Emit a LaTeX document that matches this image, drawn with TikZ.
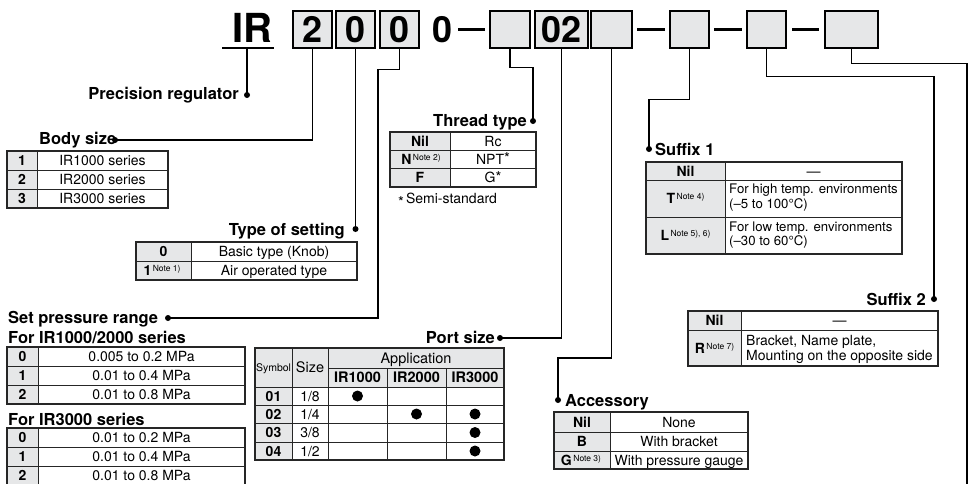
\documentclass[tikz,border=0pt]{standalone}
\usepackage{fontspec}
\setmainfont{TeX Gyre Heros}
\definecolor{cg}{HTML}{E6E7E8}
\newcommand\nt[1]{\kern1.5pt\raisebox{3.6pt}{\fontsize{8.5}{9}\mdseries\selectfont Note #1)}}
\newcommand\astk{{\fontsize{15}{15}\mdseries\selectfont *}}
\tikzset{
  conn/.style={line width=1.3pt, black},
  hbox/.style={draw=black, line width=1.4pt, fill=cg, minimum height=37pt, inner sep=0pt,
    font=\fontsize{36}{36}\bfseries\selectfont, text height=25.5pt, text depth=0pt},
  digit/.style={font=\fontsize{36}{36}\bfseries\selectfont, inner sep=0pt},
  lbl/.style={font=\fontsize{16.5}{18}\bfseries\selectfont, inner sep=0pt},
  cell/.style={font=\fontsize{14}{16}\selectfont, inner sep=0pt, text height=10pt, text depth=0pt},
  code/.style={cell, font=\fontsize{14}{16}\bfseries\selectfont},
  small/.style={cell, font=\fontsize{13.2}{15}\selectfont, anchor=base west},
  tline/.style={line width=0.9pt, black!85},
  tout/.style={line width=1.1pt, black!85},
  dashln/.style={line width=3pt, black},
}
\begin{document}
\begin{tikzpicture}[x=1pt,y=-1pt]
\useasboundingbox (0,0) rectangle (973,483);
% ---------- header ----------
\node[font=\fontsize{40}{40}\bfseries\selectfont, inner sep=0pt, anchor=base] (ir) at (252,42) {IR};
\draw[conn] (222,48) -- (274,48);
\node[hbox, minimum width=39pt] (b1) at (312.5,29.5) {2};
\node[hbox, minimum width=39pt] (b2) at (355.5,29.5) {0};
\node[hbox, minimum width=39pt] (b3) at (399.5,29.5) {0};
\node[digit, anchor=base] (zero) at (443,42.3) {0};
\node[hbox, minimum width=40pt] (b4) at (510,29.5) {};
\node[hbox, minimum width=53pt] (b5) at (561.5,29.5) {02};
\node[hbox, minimum width=41pt] (b6) at (611.5,29.5) {};
\node[hbox, minimum width=39pt] (b7) at (689.5,29.5) {};
\node[hbox, minimum width=39pt] (b8) at (766.5,29.5) {};
\node[hbox, minimum width=53pt] (b9) at (851.5,29.5) {};
\draw[dashln] (458,29.5) -- (485,29.5);
\draw[dashln] (637,29.5) -- (665,29.5);
\draw[dashln] (714,29.5) -- (742,29.5);
\draw[dashln] (792,29.5) -- (819,29.5);
% ---------- connector points ----------
\coordinate (irU) at (247,48);
\coordinate (dPrec) at (247,95);
\coordinate (dBody) at (115,140);
\coordinate (dType) at (355.5,229);
\coordinate (j3) at (378,318);
\coordinate (dSet) at (168,318);
\coordinate (dThread) at (533,121);
\coordinate (dPort) at (500,338);
\coordinate (j6) at (558,358);
\coordinate (dAcc) at (558,400);
\coordinate (dSuf1) at (649,149);
\coordinate (dSuf2) at (934,299);
\coordinate (endR) at (967,490);
\draw[conn] (irU) -- (dPrec);
\draw[conn] (b1.south) |- (dBody);
\draw[conn] (b2.south) -- (dType);
\draw[conn] (b3.south) -- ++(0,21) -| (j3) -- (dSet);
\draw[conn] (b4.south) -- ++(0,19) -| (dThread);
\draw[conn] (b5.south) |- (dPort);
\draw[conn] (b6.south) |- (j6) -- (dAcc);
\draw[conn] (b7.south) -- ++(0,51) -| (dSuf1);
\draw[conn] (b8.south) -- ++(0,28) -| (dSuf2);
\draw[conn] (b9.south) -- ++(0,15) -| (endR);
\foreach \c in {dPrec,dBody,dType,dSet,dThread,dPort,dAcc,dSuf1,dSuf2}
  \fill (\c) circle[radius=3pt];
% ---------- labels ----------
\node[lbl, anchor=base east] (lPrec) at (239,99.5) {Precision regulator};
\node[lbl, anchor=base west] (lBody) at (39,144.5) {Body size};
\node[lbl, anchor=base east] (lType) at (345,235) {Type of setting};
\node[lbl, anchor=base west] (lSet) at (8,323.5) {Set pressure range};
\node[lbl, anchor=base west] (lFor1) at (8,343) {For IR1000/2000 series};
\node[lbl, anchor=base west] (lFor3) at (8,425) {For IR3000 series};
\node[lbl, anchor=base east] (lThread) at (527,126) {Thread type};
\node[lbl, anchor=base east] (lPort) at (495,343) {Port size};
\node[lbl, anchor=base west] (lAcc) at (565,406) {Accessory};
\node[lbl, anchor=base west] (lSuf1) at (655,155) {Suffix 1};
\node[lbl, anchor=base east] (lSuf2) at (926,305) {Suffix 2};
% ---------- Body size table ----------
\fill[cg] (7,151) rectangle (37,208);
\foreach \y in {170,189} \draw[tline] (7,\y) -- (168,\y);
\draw[tline] (37,151) -- (37,208);
\draw[tout] (7,151) rectangle (168,208);
\node[code] (bs1) at (22,160.5) {1};
\node[cell] (bs1v) at (102.5,160.5) {IR1000 series};
\node[code] (bs2) at (22,179.5) {2};
\node[cell] (bs2v) at (102.5,179.5) {IR2000 series};
\node[code] (bs3) at (22,198.5) {3};
\node[cell] (bs3v) at (102.5,198.5) {IR3000 series};
% ---------- Type of setting ----------
\fill[cg] (136,242) rectangle (191,280);
\draw[tline] (136,261) -- (357,261);
\draw[tline] (191,242) -- (191,280);
\draw[tout] (136,242) rectangle (357,280);
\node[code] (ts0) at (163.5,251.5) {0};
\node[cell] (ts0v) at (274,251.5) {Basic type (Knob)};
\node[code] (ts1) at (162,270.5) {1\nt{1}};
\node[cell] (ts1v) at (274,270.5) {Air operated type};
% ---------- Set pressure range ----------
\fill[cg] (7,347) rectangle (38,404);
\foreach \y in {366,385} \draw[tline] (7,\y) -- (245,\y);
\draw[tline] (38,347) -- (38,404);
\draw[tout] (7,347) rectangle (245,404);
\node[code] (sa0) at (22.5,356.5) {0};
\node[cell] (sa0v) at (141.5,356.5) {0.005 to 0.2 MPa};
\node[code] (sa1) at (22.5,375.5) {1};
\node[cell] (sa1v) at (141.5,375.5) {0.01 to 0.4 MPa};
\node[code] (sa2) at (22.5,394.5) {2};
\node[cell] (sa2v) at (141.5,394.5) {0.01 to 0.8 MPa};
\fill[cg] (7,428) rectangle (38,486);
\foreach \y in {447,466} \draw[tline] (7,\y) -- (245,\y);
\draw[tline] (38,428) -- (38,486);
\draw[tout] (7,428) rectangle (245,486);
\node[code] (sb0) at (22.5,437.5) {0};
\node[cell] (sb0v) at (141.5,437.5) {0.01 to 0.2 MPa};
\node[code] (sb1) at (22.5,456.5) {1};
\node[cell] (sb1v) at (141.5,456.5) {0.01 to 0.4 MPa};
\node[code] (sb2) at (22.5,475.5) {2};
\node[cell] (sb2v) at (141.5,475.5) {0.01 to 0.8 MPa};
% ---------- Thread type ----------
\fill[cg] (390,132) rectangle (450,187);
\foreach \y in {150,168} \draw[tline] (390,\y) -- (536,\y);
\draw[tline] (450,132) -- (450,187);
\draw[tout] (390,132) rectangle (536,187);
\node[code] (th0) at (420,141) {Nil};
\node[cell] (th0v) at (493,141) {Rc};
\node[code] (th1) at (421,159) {N\nt{2}};
\node[cell] (th1v) at (493,159) {NPT\raisebox{0.5pt}{\astk}};
\node[code] (th2) at (420,177.5) {F};
\node[cell] (th2v) at (493,177.5) {G\raisebox{0.5pt}{\astk}};
\node[cell, anchor=base west] (semi) at (398,203.5) {\raisebox{-3.5pt}{\astk}\kern2pt Semi-standard};
% ---------- Port size ----------
\fill[cg] (255,348) rectangle (504,387);
\fill[cg] (255,387) rectangle (292,460);
\draw[tline] (328,368) -- (504,368);
\foreach \y in {387,405,423,442} \draw[tline] (255,\y) -- (504,\y);
\draw[tline] (292,348) -- (292,460);
\draw[tline] (328,348) -- (328,460);
\draw[tline] (387,368) -- (387,460);
\draw[tline] (446,368) -- (446,460);
\draw[tout] (255,348) rectangle (504,460);
\node[cell, font=\fontsize{10.5}{12}\selectfont, text height=7.5pt] (psS) at (273.5,367.5) {Symbol};
\node[cell, font=\fontsize{14.5}{16}\selectfont] (psZ) at (310,367.5) {Size};
\node[cell, font=\fontsize{14.5}{16}\selectfont] (psA) at (416,358) {Application};
\node[code, font=\fontsize{14.5}{16}\bfseries\selectfont] (ps1) at (357.5,377.5) {IR1000};
\node[code, font=\fontsize{14.5}{16}\bfseries\selectfont] (ps2) at (416.5,377.5) {IR2000};
\node[code, font=\fontsize{14.5}{16}\bfseries\selectfont] (ps3) at (475,377.5) {IR3000};
\node[code] (p01) at (273.5,396) {01};
\node[cell] (p01s) at (310,396) {1/8};
\node[code] (p02) at (273.5,414) {02};
\node[cell] (p02s) at (310,414) {1/4};
\node[code] (p03) at (273.5,432.5) {03};
\node[cell] (p03s) at (310,432.5) {3/8};
\node[code] (p04) at (273.5,451) {04};
\node[cell] (p04s) at (310,451) {1/2};
\foreach \p in {(357.5,396),(416.5,414),(475,414),(475,432.5),(475,451)}
  \fill \p circle[radius=5.5pt];
% ---------- Accessory ----------
\fill[cg] (554,412) rectangle (610,469);
\foreach \y in {432,451} \draw[tline] (554,\y) -- (748,\y);
\draw[tline] (610,412) -- (610,469);
\draw[tout] (554,412) rectangle (748,469);
\node[code] (ac0) at (582,422) {Nil};
\node[cell] (ac0v) at (679,422) {None};
\node[code] (ac1) at (582,441.5) {B};
\node[cell] (ac1v) at (679,441.5) {With bracket};
\node[code] (ac2) at (581,460) {G\nt{3}};
\node[cell] (ac2v) at (679,460) {With pressure gauge};
% ---------- Suffix 1 ----------
\fill[cg] (646,162) rectangle (725,254);
\foreach \y in {180,217} \draw[tline] (646,\y) -- (902,\y);
\draw[tline] (725,162) -- (725,254);
\draw[tout] (646,162) rectangle (902,254);
\node[code] (s10) at (685.5,171) {Nil};
\node[cell] (s10v) at (813.5,171) {—};
\node[code] (s11) at (685.5,198.5) {T\nt{4}};
\node[small] (s11a) at (729,193.3) {For high temp. environments};
\node[small] (s11b) at (729,208.3) {(–5 to 100°C)};
\node[code] (s12) at (685.5,235.5) {L\nt{5), 6}};
\node[small] (s12a) at (729,231) {For low temp. environments};
\node[small] (s12b) at (729,245.5) {(–30 to 60°C)};
% ---------- Suffix 2 ----------
\fill[cg] (688,311) rectangle (741,366);
\draw[tline] (688,330) -- (938,330);
\draw[tline] (741,311) -- (741,366);
\draw[tout] (688,311) rectangle (938,366);
\node[code] (s20) at (714.5,320.5) {Nil};
\node[cell] (s20v) at (839.5,320.5) {—};
\node[code] (s21) at (714.5,348) {R\nt{7}};
\node[cell, anchor=base west] (s21a) at (746,345) {Bracket, Name plate,};
\node[cell, anchor=base west] (s21b) at (746,360) {Mounting on the opposite side};
\end{tikzpicture}
\end{document}
